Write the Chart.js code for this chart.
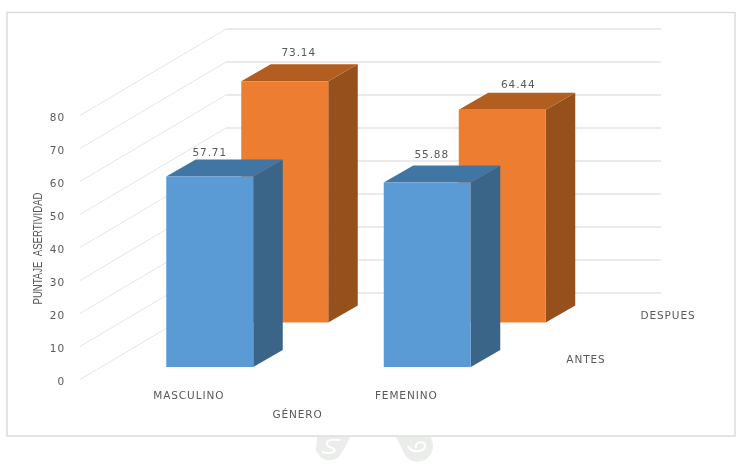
<!DOCTYPE html>
<html>
<head>
<meta charset="utf-8">
<script src="https://cdn.jsdelivr.net/npm/chart.js"></script>
<style>
  html, body { margin: 0; padding: 0; background: #fff; }
  canvas { display: block; }
</style>
</head>
<body>
<canvas id="chart" width="741" height="464"></canvas>
<script>
var categories = ['MASCULINO', 'FEMENINO'];
var antes = [57.71, 55.88];
var despues = [73.14, 64.44];
var yTicks = [0, 10, 20, 30, 40, 50, 60, 70, 80];

var textColor = '#595959';
var tickFont = { family: 'DejaVu Sans', size: 10.5 };
// 3d look: how far the back wall sits, and the box depth
var wallShift = { x: 146, y: -86.5 };
var boxDepth = { x: 29.5, y: -17 };

// faint logo pieces under the frame
function drawWatermark(c) {
    c.fillStyle = '#ebedeb';
    c.beginPath();
    c.moveTo(317, 437);
    c.lineTo(350, 437);
    c.quadraticCurveTo(344, 450, 338, 458);
    c.quadraticCurveTo(322, 465, 316, 450);
    c.closePath();
    c.fill();
    c.beginPath();
    c.moveTo(396, 437);
    c.lineTo(431, 437);
    c.quadraticCurveTo(437, 452, 425, 460);
    c.quadraticCurveTo(412, 465, 405, 455);
    c.closePath();
    c.fill();
    c.strokeStyle = '#fff';
    c.lineWidth = 2;
    c.beginPath();
    c.moveTo(340, 440);
    c.bezierCurveTo(324, 438, 324, 446, 332, 448);
    c.bezierCurveTo(338, 450, 334, 455, 322, 452);
    c.stroke();
    c.beginPath();
    c.moveTo(408, 446);
    c.bezierCurveTo(412, 454, 426, 452, 425, 445);
    c.bezierCurveTo(424, 440, 414, 442, 416, 448);
    c.stroke();
}

var depthPlugin = {
    id: 'depth',
    beforeDraw: function (chart) {
        var c = chart.ctx;
        var y = chart.scales.y;
        var x = chart.scales.x;
        // labels in the original are wide, so open up all text a bit
        c.letterSpacing = '0.9px';
        c.save();
        drawWatermark(c);
        // frame
        c.strokeStyle = '#dcdcdc';
        c.lineWidth = 1.5;
        c.strokeRect(7, 12.5, 728, 423.5);
        // walls
        yTicks.forEach(function (t) {
            var py = y.getPixelForValue(t);
            c.strokeStyle = '#dedede';
            c.lineWidth = 0.8;
            c.beginPath();
            c.moveTo(x.left, py);
            c.lineTo(x.left + wallShift.x, py + wallShift.y);
            c.stroke();
            c.strokeStyle = '#e4e4e4';
            c.lineWidth = 1.3;
            c.beginPath();
            c.moveTo(x.left + wallShift.x, py + wallShift.y);
            c.lineTo(x.right + wallShift.x, py + wallShift.y);
            c.stroke();
        });
        // narrow axis title, squeezed since no condensed font is around
        var title = 'PUNTAJE  ASERTIVIDAD';
        c.translate(38.5, (y.top + y.bottom) / 2 + 1);
        c.rotate(-Math.PI / 2);
        c.font = '13px "Liberation Sans"';
        c.letterSpacing = '0px';
        c.scale(112 / c.measureText(title).width, 1);
        c.fillStyle = textColor;
        c.textAlign = 'center';
        c.textBaseline = 'middle';
        c.fillText(title, 0, 0);
        c.restore();
    },
    beforeDatasetDraw: function (chart, args) {
        var c = chart.ctx;
        var ds = chart.data.datasets[args.index];
        var meta = chart.getDatasetMeta(args.index);
        c.save();
        c.translate(ds.shift.x, ds.shift.y);
        meta.data.forEach(function (bar) {
            var l = bar.x - bar.width / 2;
            var r = bar.x + bar.width / 2;
            // side
            c.fillStyle = ds.sideColor;
            c.beginPath();
            c.moveTo(r, bar.y);
            c.lineTo(r + boxDepth.x, bar.y + boxDepth.y);
            c.lineTo(r + boxDepth.x, bar.base + boxDepth.y);
            c.lineTo(r, bar.base);
            c.closePath();
            c.fill();
            // top
            c.fillStyle = ds.topColor;
            c.beginPath();
            c.moveTo(l, bar.y);
            c.lineTo(l + boxDepth.x, bar.y + boxDepth.y);
            c.lineTo(r + boxDepth.x, bar.y + boxDepth.y);
            c.lineTo(r, bar.y);
            c.closePath();
            c.fill();
        });
    },
    afterDatasetDraw: function (chart, args) {
        var c = chart.ctx;
        var ds = chart.data.datasets[args.index];
        var meta = chart.getDatasetMeta(args.index);
        c.restore();
        // value labels, hand placed above each box like in the original
        c.save();
        c.font = '10.5px "DejaVu Sans"';
        c.fillStyle = textColor;
        c.textAlign = 'center';
        c.textBaseline = 'middle';
        meta.data.forEach(function (bar, i) {
            var n = ds.labelNudge[i];
            c.fillText(ds.data[i].toFixed(2), bar.x + ds.shift.x + n.x, bar.y + ds.shift.y + n.y);
        });
        // series name on the depth axis
        c.fillText(ds.label, ds.labelPos.x, ds.labelPos.y);
        c.restore();
    }
};

new Chart(document.getElementById('chart'), {
    type: 'bar',
    data: {
        labels: categories,
        datasets: [{
            label: 'ANTES',
            data: antes,
            backgroundColor: '#5B9BD5',
            sideColor: '#3A6589',
            topColor: '#4176A4',
            shift: { x: 21, y: -12.5 },
            labelPos: { x: 586, y: 360 },
            labelNudge: [{ x: 0, y: -23 }, { x: 4.5, y: -27.5 }],
            grouped: false,
            clip: false,
            barPercentage: 0.4,
            categoryPercentage: 1
        }, {
            label: 'DESPUES',
            data: despues,
            backgroundColor: '#ED7D31',
            sideColor: '#96501B',
            topColor: '#B35E21',
            shift: { x: 96, y: -57 },
            labelPos: { x: 668, y: 316.5 },
            labelNudge: [{ x: 14, y: -28 }, { x: 16, y: -25 }],
            grouped: false,
            clip: false,
            barPercentage: 0.4,
            categoryPercentage: 1
        }]
    },
    options: {
        responsive: false,
        animation: false,
        layout: { padding: { left: 28, right: 226, top: 115.5, bottom: 40 } },
        plugins: {
            legend: { display: false },
            tooltip: { enabled: false }
        },
        scales: {
            x: {
                grid: { display: false },
                border: { display: false },
                afterFit: function (s) { s.height = 44.5; },
                ticks: { color: textColor, font: tickFont, padding: 2 },
                title: {
                    display: true,
                    text: 'GÉNERO',
                    color: textColor,
                    font: tickFont,
                    padding: { top: 3, bottom: 2 }
                }
            },
            y: {
                min: 0,
                max: 80,
                grid: { display: false },
                border: { display: false },
                afterFit: function (s) { s.width = 52; },
                afterBuildTicks: function (s) {
                    s.ticks = yTicks.map(function (t) { return { value: t }; });
                },
                ticks: { color: textColor, font: tickFont, padding: 7, labelOffset: 2.5 }
            }
        }
    },
    plugins: [depthPlugin]
});
</script>
</body>
</html>
